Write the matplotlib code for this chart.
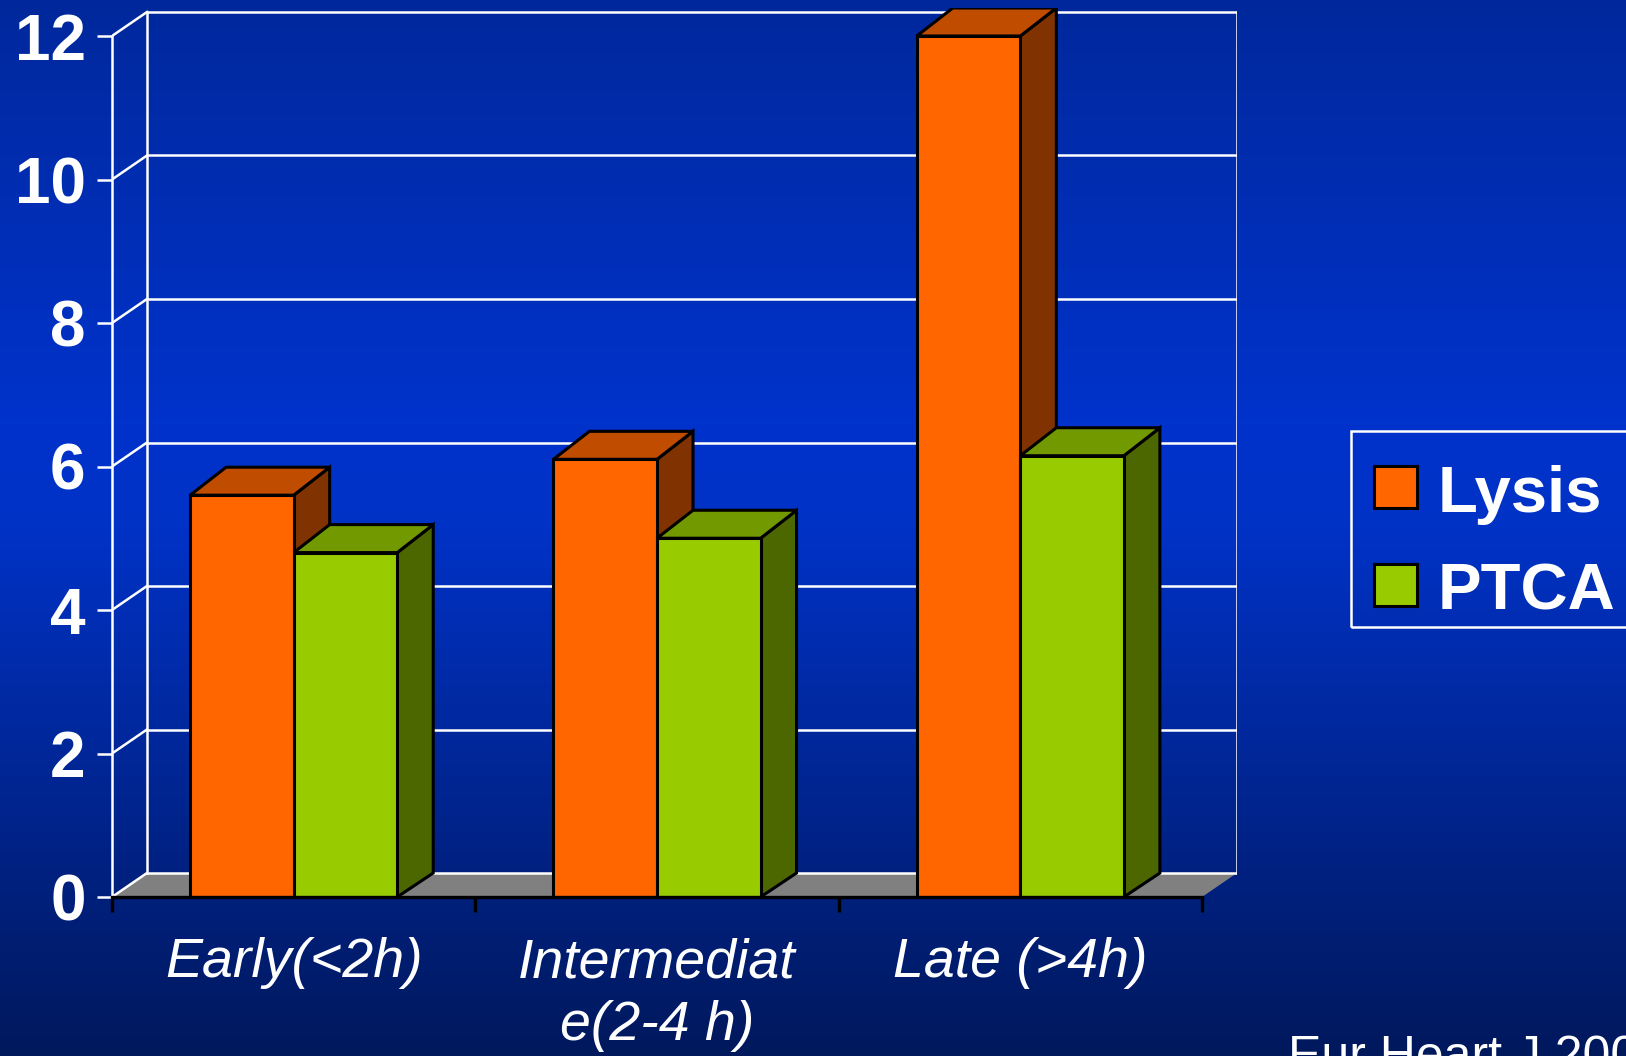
import matplotlib

matplotlib.use("Agg")
import matplotlib.pyplot as plt
import numpy as np
from matplotlib.colors import LinearSegmentedColormap
from matplotlib.patches import Polygon, Rectangle

categories = ["Early(<2h)", "Intermediat\ne(2-4 h)", "Late (>4h)"]
lysis = [5.6, 6.1, 12.0]
ptca = [4.8, 5.0, 6.15]
yticks = [0, 2, 4, 6, 8, 10, 12]
series_names = ["Lysis", "PTCA"]
source_note = "Eur Heart J 2002"

plt.rcParams["font.family"] = ["Liberation Sans", "DejaVu Sans"]

W, H = 1626, 1056
# front plane of the 3d box, in pixels
X0, X1 = 112, 1202
Y0, Y12 = 897, 36
WALL_DX, WALL_DY = 35, 24
BAR_DX, BAR_DY = 36, 28

px_x = (X1 - X0) / 3
px_y = (Y0 - Y12) / 12
dx, dy = WALL_DX / px_x, WALL_DY / px_y
bdx, bdy = BAR_DX / px_x, BAR_DY / px_y
bar_w = 0.285

face = {"Lysis": ("#ff6600", "#c04c00", "#803300"),
        "PTCA": ("#99cc00", "#739900", "#4c6600")}

fig = plt.figure(figsize=(W / 100, H / 100), dpi=100)

# background gradient
bg = fig.add_axes([0, 0, 1, 1], zorder=-10)
cmap = LinearSegmentedColormap.from_list(
    "slide", [(0, "#00289c"), (0.4, "#0033cc"), (0.5, "#0032c6"), (1, "#00185c")])
bg.imshow(np.linspace(0, 1, 256).reshape(-1, 1), aspect="auto", cmap=cmap,
          extent=[0, 1, 0, 1])
bg.axis("off")

ax = fig.add_axes([X0 / W, 1 - Y0 / H, (X1 + WALL_DX - X0) / W,
                   (Y0 - Y12 + BAR_DY) / H])
ax.set_xlim(0, 3 + dx)
ax.set_ylim(0, 12 + bdy)
ax.patch.set_alpha(0)
for side in ["top", "right", "bottom"]:
    ax.spines[side].set_visible(False)
ax.spines["left"].set_bounds(0, 12)
ax.spines["left"].set_color("white")
ax.spines["left"].set_linewidth(1.8)

# floor
ax.add_patch(Polygon([(0, 0), (3, 0), (3 + dx, dy), (dx, dy)],
                     closed=True, facecolor="#808080", edgecolor="none", zorder=1))

# back wall grid and side-wall diagonals
for v in yticks:
    ax.plot([dx, 3 + dx], [v + dy, v + dy], color="white", lw=1.8, zorder=2)
    ax.plot([0, dx], [v, v + dy], color="white", lw=1.8, zorder=2)
for xv in [dx, 3 + dx]:
    ax.plot([xv, xv], [dy, 12 + dy], color="white", lw=1.8, zorder=2)


def bar3d(x0, h, colors):
    front, top, side = colors
    kw = dict(closed=True, edgecolor="black", lw=2.2, joinstyle="miter", zorder=3)
    ax.add_patch(Polygon([(x0 + bar_w, 0), (x0 + bar_w + bdx, dy),
                          (x0 + bar_w + bdx, h + bdy), (x0 + bar_w, h)],
                         facecolor=side, **kw))
    ax.add_patch(Polygon([(x0, h), (x0 + bar_w, h), (x0 + bar_w + bdx, h + bdy),
                          (x0 + bdx, h + bdy)], facecolor=top, **kw))
    ax.add_patch(Polygon([(x0, 0), (x0 + bar_w, 0), (x0 + bar_w, h), (x0, h)],
                         facecolor=front, **kw))


for i in range(len(categories)):
    bar3d(i + 0.5 - bar_w, lysis[i], face["Lysis"])
    bar3d(i + 0.5, ptca[i], face["PTCA"])

ax.plot([0, 3], [0, 0], color="black", lw=2.4, zorder=5, clip_on=False)

ax.set_yticks(yticks)
ax.set_yticklabels([str(v) for v in yticks], fontweight="bold")
ax.tick_params(axis="y", colors="white", length=11, width=1.8, pad=8,
               labelsize=46)

ax.set_xticks([i + 0.5 for i in range(len(categories))])
ax.set_xticklabels(categories, fontstyle="italic", linespacing=1.28)
ax.set_xticks(range(len(categories) + 1), minor=True)
ax.tick_params(axis="x", which="major", length=0, pad=29, labelsize=40,
               labelcolor="white")
ax.tick_params(axis="x", which="minor", length=11, width=2.4, color="black")

# legend box, running off the right edge
fig.add_artist(Rectangle((1351 / W, 1 - 627 / H), 0.2, 196 / H,
                         transform=fig.transFigure, fill=False,
                         edgecolor="white", lw=1.8))
for name, base in zip(series_names, [512, 610]):
    fig.add_artist(Rectangle((1374 / W, 1 - (base - 4) / H), 43 / W, 42 / H,
                             transform=fig.transFigure, facecolor=face[name][0],
                             edgecolor="black", lw=2.2))
    fig.text(1438 / W, 1 - base / H, name, color="white", fontsize=47,
             fontweight="bold", va="baseline")

fig.text(1288 / W, 1 - 1071 / H, source_note, color="white", fontsize=36,
         va="baseline")

fig.savefig("out.png", dpi=100)
